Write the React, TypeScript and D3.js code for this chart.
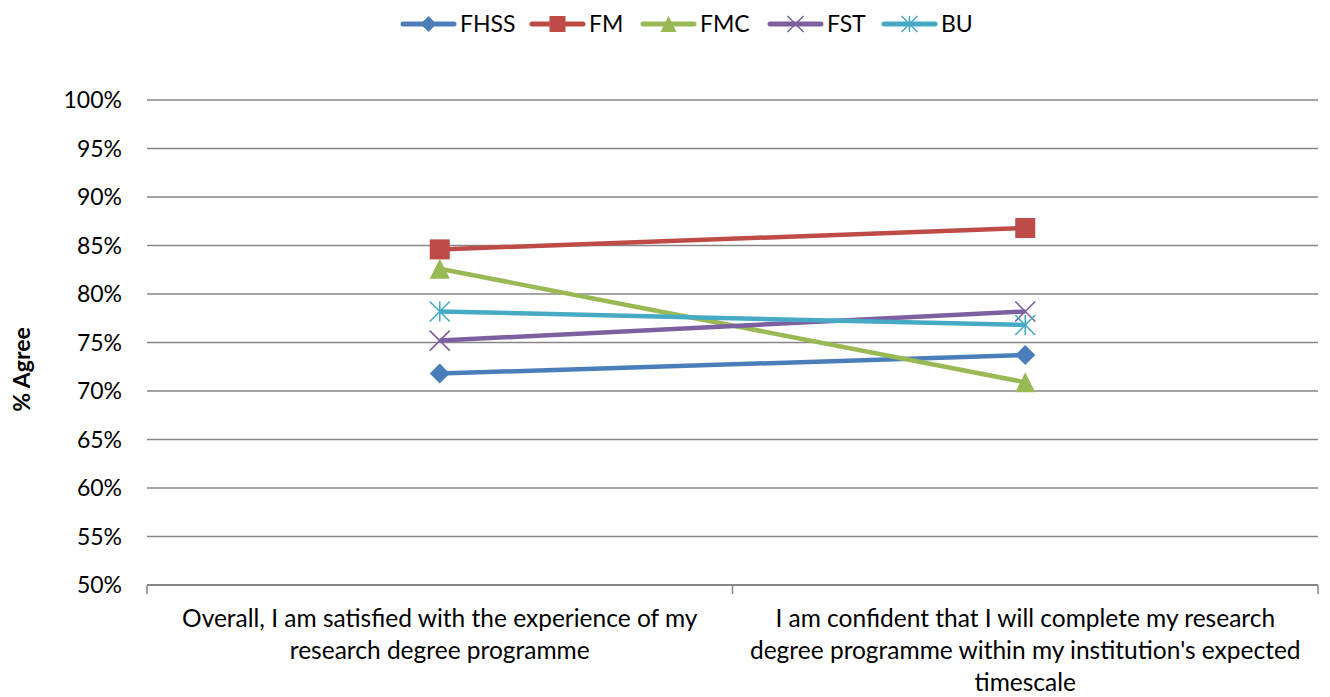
import React from 'react';
import * as d3 from 'd3';

const categories = [
  ['Overall, I am satisfied with the experience of my', 'research degree programme'],
  ['I am confident that I will complete my research', "degree programme within my institution's expected", 'timescale'],
];
const seriesNames = ['FHSS', 'FM', 'FMC', 'FST', 'BU'];
const fhss = [71.8, 73.7];
const fm = [84.6, 86.8];
const fmc = [82.6, 70.9];
const fst = [75.2, 78.2];
const bu = [78.2, 76.8];
const yTicks = [50, 55, 60, 65, 70, 75, 80, 85, 90, 95, 100];

const colors = ['#4A7EBB', '#BE4B48', '#98B954', '#7D60A0', '#46AAC5'];
const markers = ['diamond', 'square', 'triangle', 'x', 'star'];
const seriesValues = [fhss, fm, fmc, fst, bu];

const W = 1330;
const H = 697;
const font = 'Lato, "Open Sans", sans-serif';

function Marker({ type, x, y, s, color }: { type: string; x: number; y: number; s: number; color: string }) {
  const h = s / 2;
  if (type === 'diamond') {
    return <path d={`M${x},${y - h}L${x + h},${y}L${x},${y + h}L${x - h},${y}Z`} fill={color} />;
  }
  if (type === 'square') {
    return <rect x={x - h} y={y - h} width={s} height={s} fill={color} />;
  }
  if (type === 'triangle') {
    return <path d={`M${x},${y - h}L${x + h},${y + h}L${x - h},${y + h}Z`} fill={color} />;
  }
  if (type === 'x') {
    return (
      <path d={`M${x - h},${y - h}L${x + h},${y + h}M${x + h},${y - h}L${x - h},${y + h}`} stroke={color} strokeWidth={1.6} />
    );
  }
  return (
    <path
      d={`M${x - h},${y - h}L${x + h},${y + h}M${x + h},${y - h}L${x - h},${y + h}M${x},${y - h}L${x},${y + h}`}
      stroke={color}
      strokeWidth={1.6}
    />
  );
}

export default function App() {
  const left = 147;
  const right = 1318;
  const top = 100;
  const bottom = 585;

  const x = d3.scaleBand<number>().domain(categories.map((_, i) => i)).range([left, right]);
  const y = d3.scaleLinear().domain([50, 100]).range([bottom, top]);
  const cx = (i: number) => (x(i) as number) + x.bandwidth() / 2;

  const line = d3
    .line<number>()
    .x((_, i) => cx(i))
    .y((d) => y(d));

  const legendX = [401, 530, 641, 768, 882];

  return (
    <svg width={W} height={H} style={{ position: 'absolute', left: 0, top: 0, background: '#fff' }}>
      {/* gridlines */}
      {yTicks.map((t) => (
        <g key={t}>
          {t !== 50 && <line x1={left} x2={right} y1={y(t)} y2={y(t)} stroke="#868686" strokeWidth={1.5} />}
          <text x={122} y={y(t)} dy="0.35em" textAnchor="end" fontFamily={font} fontSize={23} fill="#000">
            {t}%
          </text>
        </g>
      ))}
      {/* x axis */}
      <line x1={left} x2={right} y1={bottom} y2={bottom} stroke="#868686" strokeWidth={2} />
      {[left, ...categories.map((_, i) => (x(i) as number) + x.bandwidth())].map((v, i) => (
        <line key={i} x1={v} x2={v} y1={bottom} y2={bottom + 9} stroke="#868686" strokeWidth={1.5} />
      ))}
      {categories.map((lines, i) => (
        <text key={i} x={cx(i)} y={627} textAnchor="middle" fontFamily={font} fontSize={24.5} fill="#000">
          {lines.map((l, j) => (
            <tspan key={j} x={cx(i)} dy={j === 0 ? 0 : 32}>
              {l}
            </tspan>
          ))}
        </text>
      ))}
      <text
        transform={`translate(30,${(top + bottom) / 2 + 27}) rotate(-90)`}
        textAnchor="middle"
        fontFamily={font}
        fontWeight="bold"
        fontSize={23}
        fill="#000"
      >
        % Agree
      </text>
      {/* series */}
      {seriesValues.map((vals, k) => (
        <g key={k}>
          <path d={line(vals) || ''} fill="none" stroke={colors[k]} strokeWidth={4.5} strokeLinejoin="round" />
          {vals.map((v, i) => (
            <Marker key={i} type={markers[k]} x={cx(i)} y={y(v)} s={20} color={colors[k]} />
          ))}
        </g>
      ))}
      {/* legend */}
      {seriesNames.map((n, k) => (
        <g key={n}>
          <line x1={legendX[k] + 2} x2={legendX[k] + 53} y1={24} y2={24} stroke={colors[k]} strokeWidth={5} strokeLinecap="round" />
          <Marker type={markers[k]} x={legendX[k] + 27.5} y={24} s={16} color={colors[k]} />
          <text x={legendX[k] + 59} y={24} dy="0.35em" fontFamily={font} fontSize={23} fill="#000">
            {n}
          </text>
        </g>
      ))}
    </svg>
  );
}
